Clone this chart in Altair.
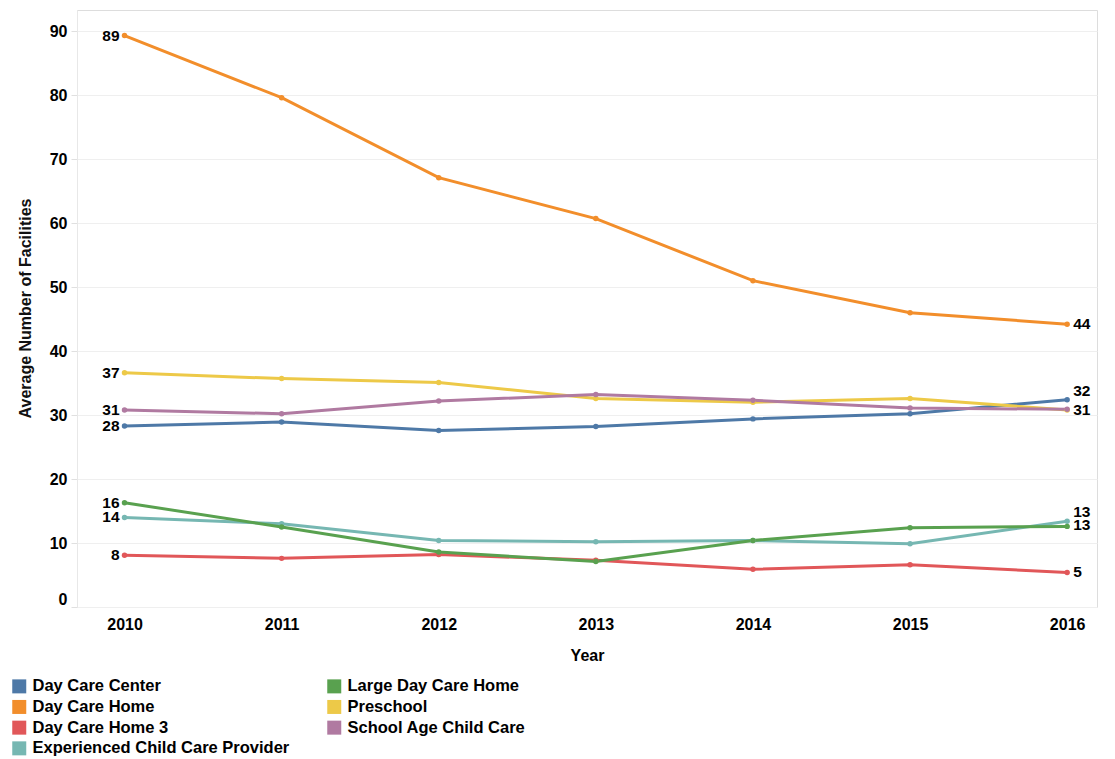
import altair as alt
import pandas as pd

years = [2010, 2011, 2012, 2013, 2014, 2015, 2016]
series = ["Day Care Center", "Day Care Home", "Day Care Home 3",
          "Experienced Child Care Provider", "Large Day Care Home", "Preschool",
          "School Age Child Care"]
colors = ["#4E79A7", "#F28E2B", "#E15759", "#76B7B2", "#59A14F", "#EDC948", "#B07AA1"]

day_care_center = [28.3, 28.9, 27.6, 28.2, 29.4, 30.2, 32.4]
day_care_home = [89.3, 79.6, 67.1, 60.7, 51.0, 46.0, 44.2]
day_care_home_3 = [8.1, 7.6, 8.2, 7.3, 5.9, 6.6, 5.4]
experienced_provider = [14.0, 13.0, 10.4, 10.2, 10.4, 9.9, 13.4]
large_day_care_home = [16.3, 12.5, 8.6, 7.1, 10.4, 12.4, 12.6]
preschool = [36.6, 35.7, 35.1, 32.6, 32.0, 32.6, 30.8]
school_age_child_care = [30.8, 30.2, 32.2, 33.2, 32.3, 31.1, 30.9]

values = [day_care_center, day_care_home, day_care_home_3, experienced_provider,
          large_day_care_home, preschool, school_age_child_care]

rows = []
for name, vals in zip(series, values):
    for yr, v in zip(years, vals):
        rows.append({"Type": name, "Year": yr, "Value": v})
df = pd.DataFrame(rows)

FONT = "Liberation Sans"

x_enc = alt.X("Year:Q",
              scale=alt.Scale(domain=[2009.6975, 2016.19], nice=False, zero=False),
              axis=alt.Axis(values=years, format="d", title="Year", grid=False,
                            domain=False, ticks=False, labelPadding=9,
                            labelFontSize=16, labelFontWeight="bold", labelColor="#000",
                            titleFontSize=16, titleFontWeight="bold", titleColor="#000",
                            titlePadding=15, labelFont=FONT, titleFont=FONT))
y_enc = alt.Y("Value:Q",
              scale=alt.Scale(domain=[0, 93.3], nice=False),
              axis=alt.Axis(values=[0, 10, 20, 30, 40, 50, 60, 70, 80, 90],
                            title="Average Number of Facilities",
                            grid=True, gridColor="#efefef", gridWidth=1,
                            domain=True, domainColor="#e8e8e8",
                            ticks=True, tickColor="#e0e0e0", tickSize=6,
                            labelPadding=4, labelFlush=True,
                            labelFontSize=16, labelFontWeight="bold", labelColor="#000",
                            titleFontSize=16, titleFontWeight="bold", titleColor="#111",
                            titleAngle=270, titleX=-52, titleY=298,
                            titleAlign="center", titleBaseline="middle",
                            labelFont=FONT, titleFont=FONT))
color_enc = alt.Color("Type:N",
                      scale=alt.Scale(domain=series, range=colors),
                      legend=alt.Legend(title=None, orient="none", legendX=-66, legendY=668,
                                        columns=2, columnPadding=36, rowPadding=3.7,
                                        symbolType="square", symbolSize=196,
                                        symbolStrokeWidth=0, symbolOpacity=1,
                                        labelFontSize=16.5, labelFontWeight="bold",
                                        labelColor="#000", labelFont=FONT,
                                        labelLimit=400, labelOffset=5))

base = alt.Chart(df)

lines = base.mark_line(strokeWidth=3).encode(x=x_enc, y=y_enc, color=color_enc,
                                              detail="Type:N")
points = base.mark_circle(size=30, opacity=1).encode(
    x=x_enc, y=y_enc,
    color=alt.Color("Type:N", scale=alt.Scale(domain=series, range=colors), legend=None))

text_style = dict(fontSize=15.5, fontWeight="bold", color="#000", font=FONT, baseline="middle")

left_labels = base.transform_filter(alt.datum.Year == 2010).mark_text(
    align="right", dx=-5, **text_style).encode(
    x=alt.X("Year:Q"), y=alt.Y("Value:Q"), text=alt.Text("Value:Q", format=".0f"))

right_labels = base.transform_filter(
    (alt.datum.Year == 2016)
    & (alt.datum.Type != "School Age Child Care")
    & (alt.datum.Type != "Day Care Center")
    & (alt.datum.Type != "Experienced Child Care Provider")
    & (alt.datum.Type != "Large Day Care Home")
).mark_text(align="left", dx=6, **text_style).encode(
    x=alt.X("Year:Q"), y=alt.Y("Value:Q"), text=alt.Text("Value:Q", format=".0f"))

right_labels_green = base.transform_filter(
    (alt.datum.Year == 2016) & (alt.datum.Type == "Large Day Care Home")
).mark_text(align="left", dx=6, dy=-1, **text_style).encode(
    x=alt.X("Year:Q"), y=alt.Y("Value:Q"), text=alt.Text("Value:Q", format=".0f"))

right_labels_up = base.transform_filter(
    (alt.datum.Year == 2016)
    & ((alt.datum.Type == "Day Care Center")
       | (alt.datum.Type == "Experienced Child Care Provider"))
).mark_text(align="left", dx=6, dy=-9, **text_style).encode(
    x=alt.X("Year:Q"), y=alt.Y("Value:Q"), text=alt.Text("Value:Q", format=".0f"))

chart = alt.layer(lines, points, left_labels, right_labels, right_labels_green,
                  right_labels_up).properties(
    width=1020, height=597,
    autosize=alt.AutoSizeParams(type="none"),
    padding={"left": 69, "top": 2, "right": 10, "bottom": 150},
).configure_view(stroke=None).configure(background="white")

chart.save("out.html", embed_options={"renderer": "svg", "actions": False})
